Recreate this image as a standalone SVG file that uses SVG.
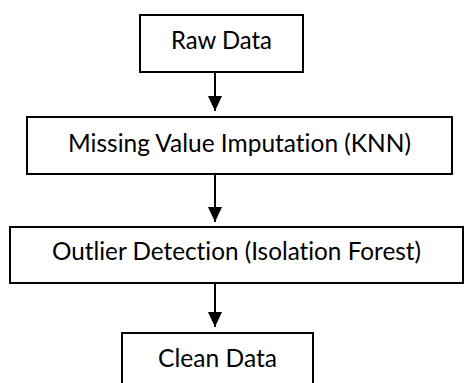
<svg xmlns="http://www.w3.org/2000/svg" width="465" height="383" viewBox="0 0 465 383">
  <style>
    .box { fill: #ffffff; stroke: #000000; stroke-width: 2; }
    .label { font-family: Lato, "Open Sans", "Liberation Sans", sans-serif; font-size: 25px; fill: #000000; text-anchor: middle; font-variant-ligatures: none; }
    .link { stroke: #000000; stroke-width: 2; fill: none; }
  </style>
  <defs>
    <marker id="arrowhead" markerWidth="8" markerHeight="8" refX="7.5" refY="3.5" orient="auto" markerUnits="strokeWidth">
      <path d="M0,0 L7.5,3.5 L0,7 Z" fill="#000000"/>
    </marker>
  </defs>
  <rect width="465" height="383" fill="#ffffff"/>

  <g id="connectors">
    <line class="link" x1="215" y1="72" x2="215" y2="111" marker-end="url(#arrowhead)"/>
    <line class="link" x1="215" y1="174" x2="215" y2="222" marker-end="url(#arrowhead)"/>
    <line class="link" x1="215" y1="283" x2="215" y2="327" marker-end="url(#arrowhead)"/>
  </g>

  <g id="raw-data">
    <rect class="box" x="140" y="15" width="163" height="57"/>
    <text class="label" x="221.5" y="49" textLength="101" lengthAdjust="spacingAndGlyphs">Raw Data</text>
  </g>

  <g id="missing-value-imputation">
    <rect class="box" x="27" y="117" width="425" height="57"/>
    <text class="label" x="239.5" y="152" textLength="343" lengthAdjust="spacingAndGlyphs">Missing Value Imputation (KNN)</text>
  </g>

  <g id="outlier-detection">
    <rect class="box" x="10" y="227" width="453" height="56"/>
    <text class="label" x="236.5" y="260" textLength="369" lengthAdjust="spacingAndGlyphs">Outlier Detection (Isolation Forest)</text>
  </g>

  <g id="clean-data">
    <rect class="box" x="122" y="333" width="191" height="60"/>
    <text class="label" x="217.5" y="367" textLength="119" lengthAdjust="spacingAndGlyphs">Clean Data</text>
  </g>
</svg>
